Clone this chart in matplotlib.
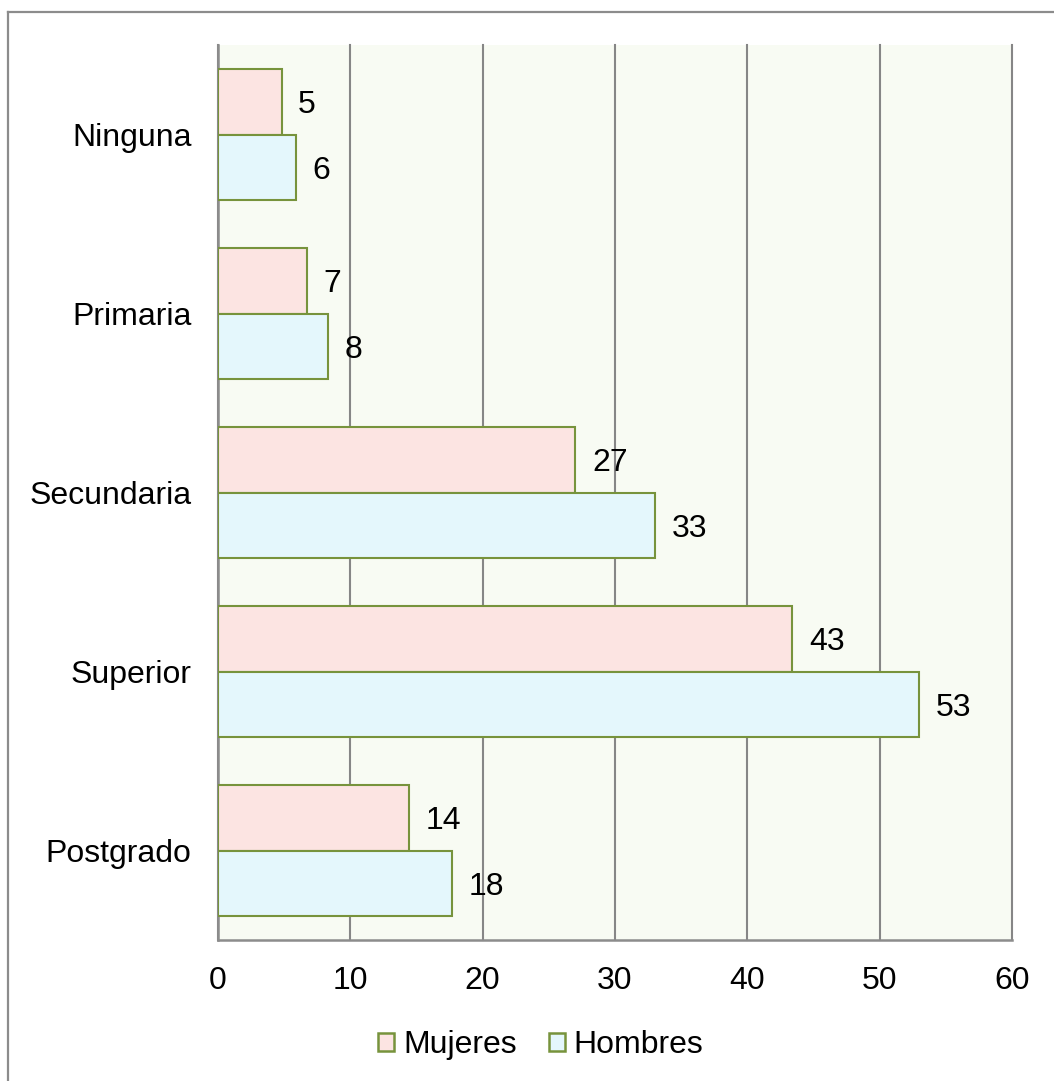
import matplotlib
matplotlib.use("Agg")
import matplotlib.pyplot as plt
from matplotlib.patches import Patch
from matplotlib.lines import Line2D
import numpy as np

plt.rcParams['font.family'] = ['Liberation Sans', 'DejaVu Sans']

categories = ["Ninguna", "Primaria", "Secundaria", "Superior", "Postgrado"]
mujeres = [4.8, 6.7, 27.0, 43.4, 14.4]
hombres = [5.9, 8.3, 33.0, 53.0, 17.7]
series_names = ["Mujeres", "Hombres"]
x_ticks = [0, 10, 20, 30, 40, 50, 60]

W, H = 1054, 1081
fs = 23
fig = plt.figure(figsize=(W / 100, H / 100), dpi=100)
fig.patch.set_facecolor("white")

# outer chart frame (top and left edges visible)
frame_col = "#8c8c8c"
fig.add_artist(Line2D([8 / W, 1.0], [1 - 12 / H, 1 - 12 / H], color=frame_col, lw=1.6,
                      transform=fig.transFigure))
fig.add_artist(Line2D([8 / W, 8 / W], [0.0, 1 - 12 / H], color=frame_col, lw=1.6,
                      transform=fig.transFigure))

ax = fig.add_axes([218 / W, 1 - 940 / H, (1012 - 218) / W, (940 - 45) / H])
ax.set_facecolor("#f8fbf3")

fill_m = "#fce4e2"
fill_h = "#e4f7fc"
edge = "#77933c"
bar_h = 0.366

y = np.arange(len(categories))
bm = ax.barh(y - bar_h / 2, mujeres, height=bar_h, color=fill_m, edgecolor=edge,
             linewidth=1.5, zorder=3, label=series_names[0])
bh = ax.barh(y + bar_h / 2, hombres, height=bar_h, color=fill_h, edgecolor=edge,
             linewidth=1.5, zorder=3, label=series_names[1])

for bars, vals in ((bm, mujeres), (bh, hombres)):
    for rect, v in zip(bars, vals):
        ax.annotate(f"{v:.0f}", xy=(v, rect.get_y() + rect.get_height() / 2),
                    xytext=(12, 0), textcoords="offset points",
                    ha="left", va="center_baseline", fontsize=fs, color="black", zorder=4)

ax.set_xlim(0, 60)
ax.set_ylim(len(categories) - 0.5, -0.5)
ax.set_xticks(x_ticks)
ax.set_yticks(y)
ax.set_yticklabels(categories)
ax.tick_params(axis="both", length=0, labelsize=fs, colors="black")
ax.tick_params(axis="x", pad=19)
ax.tick_params(axis="y", pad=19)

ax.grid(axis="x", color="#868686", linewidth=1.5, zorder=1)
ax.set_axisbelow(True)
for gl in ax.get_xgridlines():
    gl.set_clip_on(False)
for side in ("top", "right"):
    ax.spines[side].set_visible(False)
for side in ("left", "bottom"):
    ax.spines[side].set_color("#8c8c8c")
    ax.spines[side].set_linewidth(1.8)

handles = [Patch(facecolor=fill_m, edgecolor=edge, linewidth=1.8),
           Patch(facecolor=fill_h, edgecolor=edge, linewidth=1.8)]
fig.legend(handles, series_names, loc="center", bbox_to_anchor=(541 / W, 1 - 1045 / H),
           ncol=2, frameon=False, fontsize=fs, handlelength=0.5, handleheight=0.5,
           handletextpad=0.28, columnspacing=1.0, borderpad=0)

fig.savefig("out.png", dpi=100, facecolor="white")
